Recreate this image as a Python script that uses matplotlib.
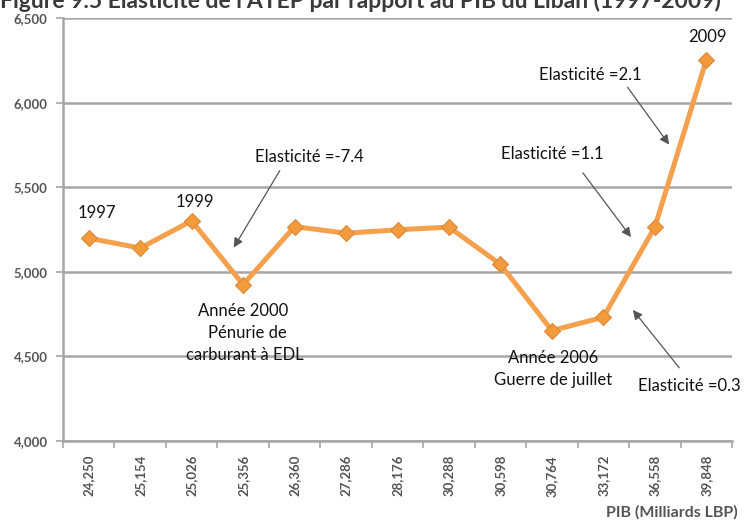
import matplotlib
matplotlib.use("Agg")
import matplotlib.pyplot as plt
from matplotlib.ticker import FuncFormatter, FixedLocator

# ---- data ----
pib_labels = ["24,250", "25,154", "25,026", "25,356", "26,360", "27,286", "28,176",
              "30,288", "30,598", "30,764", "33,172", "36,558", "39,848"]
years = [1997, 1998, 1999, 2000, 2001, 2002, 2003, 2004, 2005, 2006, 2007, 2008, 2009]
atep = [5200, 5141, 5302, 4925, 5268, 5229, 5249, 5265, 5045, 4653, 4732, 5265, 6253]
yticks = [4000, 4500, 5000, 5500, 6000, 6500]

title = "Figure 9.5 Elasticité de l'ATEP par rapport au PIB du Liban (1997-2009)"
xlabel = "PIB (Milliards LBP)"

FONT = ["Lato", "DejaVu Sans"]
plt.rcParams["font.family"] = FONT

fig = plt.figure(figsize=(7.46, 5.23), dpi=100)
ax = fig.add_axes([63/746, 1 - 441/523, (732 - 63)/746, (441 - 18.3)/523])

x = list(range(len(atep)))
line_col = "#F4A04C"
ax.plot(x, atep, color=line_col, lw=3.6, zorder=3, solid_capstyle="round")
ax.plot(x, atep, ls="none", marker="D", ms=8, mfc="#F39A3C", mec="#DB8A3A",
        mew=0.8, zorder=4)

ax.set_ylim(4000, 6500)
ax.set_xlim(-0.5, len(atep) - 0.5)
ax.set_yticks(yticks)
ax.yaxis.set_major_formatter(FuncFormatter(lambda v, p: f"{int(v):,}"))
ax.grid(axis="y", color="#A6A6A6", lw=1.8, zorder=1)
ax.set_axisbelow(True)

ax.set_xticks(x)
ax.set_xticklabels(pib_labels, rotation=90, fontsize=9.5, fontweight="bold", color="#555555")
ax.xaxis.set_minor_locator(FixedLocator([i - 0.5 for i in range(len(atep) + 1)]))
ax.tick_params(axis="x", which="major", length=0, pad=10)
ax.tick_params(axis="x", which="minor", length=5, color="#A6A6A6", width=1.2)
ax.tick_params(axis="y", length=5, color="#A6A6A6", width=1.2, labelsize=9.5,
               labelcolor="#555555", pad=6)
for lab in ax.get_yticklabels():
    lab.set_fontweight("bold")

for s in ["top", "right"]:
    ax.spines[s].set_visible(False)
for s in ["left", "bottom"]:
    ax.spines[s].set_color("#A6A6A6")
    ax.spines[s].set_linewidth(1.8)

# year labels
tk = dict(fontsize=12, color="#111111", ha="center", va="center")
ax.text(0.15, 5348, "1997", **tk)
ax.text(2.06, 5415, "1999", **tk)
ax.text(12.02, 6391, "2009", **tk)

# event texts
ax.text(3.0, 4771, "Année 2000", **tk)
ax.text(3.09, 4639, "Pénurie de", **tk)
ax.text(3.03, 4509, "carburant à EDL", **tk)
ax.text(9.03, 4489, "Année 2006", **tk)
ax.text(9.02, 4361, "Guerre de juillet", **tk)

# elasticity annotations
ap = dict(arrowstyle="-|>", color="#555555", lw=0.9, mutation_scale=14)
ax.text(4.29, 5680, "Elasticité =-7.4", **tk)
ax.annotate("", xy=(2.79, 5130), xytext=(3.74, 5613), arrowprops=ap)
ax.text(9.74, 6165, "Elasticité =2.1", **tk)
ax.annotate("", xy=(11.31, 5740), xytext=(10.44, 6105), arrowprops=ap)
ax.text(9.01, 5697, "Elasticité =1.1", **tk)
ax.annotate("", xy=(10.57, 5193), xytext=(9.57, 5599), arrowprops=ap)
ax.text(11.67, 4325, "Elasticité =0.3", **tk)
ax.annotate("", xy=(10.54, 4788), xytext=(11.51, 4420), arrowprops=ap)

fig.text(738/746, 1 - 512/523, xlabel, ha="right", va="center", fontsize=11.5,
         fontweight="bold", color="#555555")
fig.text(0.0, 1 - 7.5/523, title, ha="left", va="baseline", fontsize=16.5,
         fontweight="bold", color="#3A3A3A")

fig.savefig("out.png", dpi=100)
